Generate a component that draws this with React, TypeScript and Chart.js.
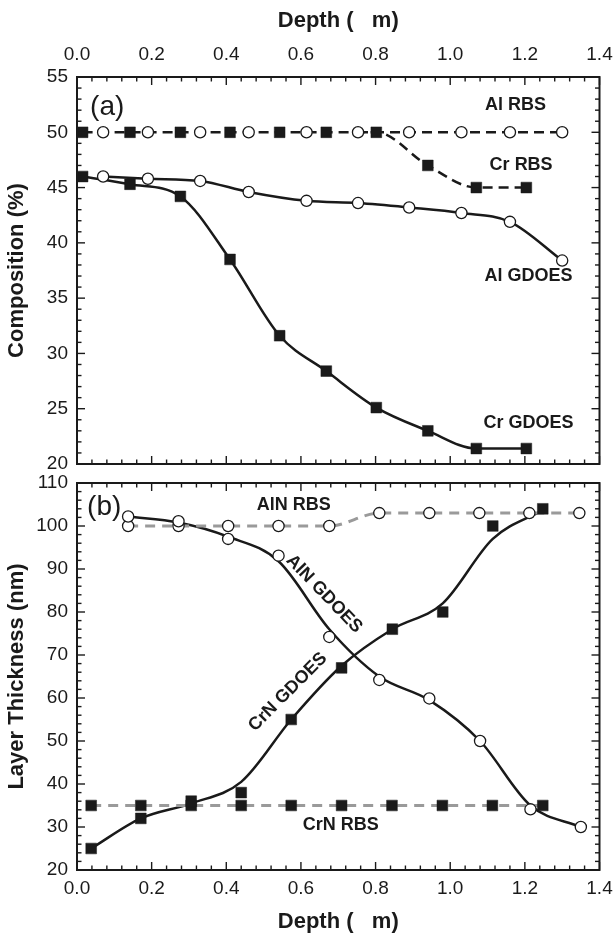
import React, { useEffect, useRef } from 'react';
import { Chart, registerables } from 'chart.js';

Chart.register(...registerables);

// ---------- Panel (a): composition ----------
const alRbsDepth = [0.07, 0.19, 0.33, 0.46, 0.615, 0.753, 0.89, 1.03, 1.16, 1.3];
const alRbs = [50, 50, 50, 50, 50, 50, 50, 50, 50, 50];
const crRbsDepth = [0.015, 0.142, 0.277, 0.41, 0.543, 0.668, 0.802, 0.94, 1.07, 1.204];
const crRbs = [50, 50, 50, 50, 50, 50, 50, 47, 45, 45];
const alGdoesDepth = [0.07, 0.19, 0.33, 0.46, 0.615, 0.753, 0.89, 1.03, 1.16, 1.3];
const alGdoes = [46.0, 45.8, 45.6, 44.6, 43.8, 43.6, 43.2, 42.7, 41.9, 38.4];
const crGdoesDepth = [0.015, 0.142, 0.277, 0.41, 0.543, 0.668, 0.802, 0.94, 1.07, 1.204];
const crGdoes = [46.0, 45.3, 44.2, 38.5, 31.6, 28.4, 25.1, 23.0, 21.4, 21.4];

// ---------- Panel (b): layer thickness ----------
const alnRbsDepth = [0.137, 0.272, 0.405, 0.54, 0.676, 0.81, 0.944, 1.078, 1.212, 1.346];
const alnRbs = [100, 100, 100, 100, 100, 103, 103, 103, 103, 103];
const alnGdoesDepth = [0.137, 0.272, 0.405, 0.54, 0.676, 0.81, 0.944, 1.08, 1.215, 1.35];
const alnGdoes = [102.2, 101.1, 97.0, 93.1, 74.2, 64.2, 59.9, 50.0, 34.1, 30.0];
const alnGdoesFit = [102.2, 100.8, 97.5, 91.8, 76.0, 65.0, 59.5, 50.0, 35.0, 30.0];
const crnRbsDepth = [0.038, 0.171, 0.306, 0.44, 0.574, 0.709, 0.844, 0.979, 1.113, 1.248];
const crnRbs = [35, 35, 35, 35, 35, 35, 35, 35, 35, 35];
const crnGdoesDepth = [0.038, 0.171, 0.306, 0.44, 0.574, 0.709, 0.845, 0.98, 1.114, 1.248];
const crnGdoes = [25, 32, 36, 38, 55, 67, 76, 80, 100, 104];
const crnGdoesFit = [25, 32, 35.5, 40.5, 55, 67.5, 76, 82, 97, 103.7];

// ---------- Axis ticks ----------
const depthMin = 0;
const depthMax = 1.4;
const depthMajor = 0.2;
const depthMinor = 0.04;
const compMin = 20;
const compMax = 55;
const compMajor = 5;
const compMinor = 1;
const thickMin = 20;
const thickMax = 110;
const thickMajor = 10;
const thickMinor = 2;

const xTitle = 'Depth (   m)';
const FONT = '"Liberation Sans", Arial, Helvetica, sans-serif';
const INK = '#1a1a1a';
const GREY = '#9a9a9a';

const zip = (xs: number[], ys: number[]) => xs.map((x, i) => ({ x, y: ys[i] }));

const frameTicks = {
  id: 'frameTicks',
  afterDraw(chart: any, _args: any, opts: any) {
    const { ctx, chartArea: ca, scales } = chart;
    const xs = scales.x;
    const ys = scales.y;
    ctx.save();
    ctx.strokeStyle = INK;
    ctx.lineWidth = 1.4;
    const seg = (x1: number, y1: number, x2: number, y2: number) => {
      ctx.beginPath();
      ctx.moveTo(x1, y1);
      ctx.lineTo(x2, y2);
      ctx.stroke();
    };
    const nx = Math.round((depthMax - depthMin) / depthMinor);
    const perMajorX = Math.round(depthMajor / depthMinor);
    for (let i = 0; i <= nx; i++) {
      const v = depthMin + i * depthMinor;
      const px = xs.getPixelForValue(v);
      const len = i % perMajorX === 0 ? 8 : 4.5;
      seg(px, ca.top, px, ca.top + len);
      seg(px, ca.bottom, px, ca.bottom - len);
    }
    const ny = Math.round((opts.max - opts.min) / opts.minor);
    const perMajorY = Math.round(opts.major / opts.minor);
    for (let i = 0; i <= ny; i++) {
      const v = opts.min + i * opts.minor;
      const py = ys.getPixelForValue(v);
      const len = i % perMajorY === 0 ? 8 : 4.5;
      seg(ca.left, py, ca.left + len, py);
      seg(ca.right, py, ca.right - len, py);
    }
    ctx.lineWidth = 2;
    ctx.strokeRect(ca.left, ca.top, ca.right - ca.left, ca.bottom - ca.top);
    for (const l of opts.labels) {
      ctx.save();
      ctx.translate(xs.getPixelForValue(l.x), ys.getPixelForValue(l.y));
      ctx.rotate(((l.rot || 0) * Math.PI) / 180);
      ctx.font = l.font;
      ctx.fillStyle = INK;
      ctx.textAlign = l.align || 'center';
      ctx.textBaseline = 'middle';
      ctx.fillText(l.text, 0, 0);
      ctx.restore();
    }
    ctx.restore();
  },
};

const bold = `bold 18px ${FONT}`;
const panelFont = `28px ${FONT}`;

const squareStyle = {
  pointStyle: 'rect',
  pointRadius: 7.6,
  pointBackgroundColor: INK,
  pointBorderColor: INK,
  pointBorderWidth: 0.5,
};
const circleStyle = {
  pointStyle: 'circle',
  pointRadius: 5.6,
  pointBackgroundColor: '#ffffff',
  pointBorderColor: INK,
  pointBorderWidth: 1.3,
};

function makeOptions(cfg: any) {
  return {
    responsive: false,
    animation: false,
    events: [],
    layout: { padding: cfg.padding },
    plugins: {
      legend: { display: false },
      tooltip: { enabled: false },
      frameTicks: cfg.frame,
    },
    scales: {
      x: {
        type: 'linear',
        position: cfg.xPos,
        min: depthMin,
        max: depthMax,
        afterFit: (s: any) => {
          s.height = cfg.xHeight;
          s.paddingLeft = 0;
          s.paddingRight = 0;
        },
        grid: { display: false, drawTicks: false },
        border: { display: false },
        ticks: {
          stepSize: depthMajor,
          padding: cfg.xTickPad,
          color: INK,
          font: { family: FONT, size: 19 },
          callback: (v: any) => Number(v).toFixed(1),
          maxRotation: 0,
          autoSkip: false,
        },
        title: {
          display: true,
          text: xTitle,
          color: INK,
          font: { family: FONT, size: 22, weight: 'bold' },
          padding: cfg.xTitlePad,
        },
      },
      y: {
        type: 'linear',
        position: 'left',
        min: cfg.frame.min,
        max: cfg.frame.max,
        afterFit: (s: any) => {
          s.width = 77;
          s.paddingTop = 0;
          s.paddingBottom = 0;
        },
        grid: { display: false, drawTicks: false },
        border: { display: false },
        ticks: {
          stepSize: cfg.frame.major,
          padding: 9,
          color: INK,
          font: { family: FONT, size: 19 },
          autoSkip: false,
        },
        title: {
          display: true,
          text: cfg.yTitle,
          color: INK,
          font: { family: FONT, size: 22, weight: 'bold' },
          padding: { top: 4, bottom: 0 },
        },
      },
    },
  };
}

function TopPanel() {
  const ref = useRef<HTMLCanvasElement>(null);
  useEffect(() => {
    if (!ref.current) return;
    const chart = new Chart(ref.current, {
      type: 'line',
      data: {
        datasets: [
          {
            label: 'Al RBS',
            data: zip(alRbsDepth, alRbs),
            ...circleStyle,
            borderColor: INK,
            borderWidth: 2.5,
            borderDash: [10, 6],
            cubicInterpolationMode: 'monotone',
            segment: {
              borderColor: (c: any) => (c.p0.parsed.x < 0.74 ? 'rgba(0,0,0,0)' : INK),
            },
          },
          {
            label: 'Cr RBS',
            data: zip(crRbsDepth, crRbs),
            ...squareStyle,
            borderColor: INK,
            borderWidth: 2.5,
            borderDash: [10, 6],
            cubicInterpolationMode: 'monotone',
          },
          {
            label: 'Al GDOES',
            data: zip(alGdoesDepth, alGdoes),
            ...circleStyle,
            borderColor: INK,
            borderWidth: 2.5,
            cubicInterpolationMode: 'monotone',
          },
          {
            label: 'Cr GDOES',
            data: zip(crGdoesDepth, crGdoes),
            ...squareStyle,
            borderColor: INK,
            borderWidth: 2.5,
            cubicInterpolationMode: 'monotone',
          },
        ],
      },
      options: makeOptions({
        padding: { left: 0, right: 16.5, top: 0, bottom: 10 },
        xPos: 'top',
        xHeight: 77,
        xTickPad: 11,
        xTitlePad: { top: 8, bottom: 0 },
        yTitle: 'Composition (%)',
        frame: {
          min: compMin,
          max: compMax,
          major: compMajor,
          minor: compMinor,
          labels: [
            { text: '(a)', x: 0.035, y: 52.3, font: panelFont, align: 'left' },
            { text: 'Al RBS', x: 1.175, y: 52.45, font: bold },
            { text: 'Cr RBS', x: 1.19, y: 47.0, font: bold },
            { text: 'Al GDOES', x: 1.21, y: 37.0, font: bold },
            { text: 'Cr GDOES', x: 1.21, y: 23.7, font: bold },
          ],
        },
      }) as any,
      plugins: [frameTicks as any],
    });
    return () => chart.destroy();
  }, []);
  return <canvas ref={ref} width={616} height={474} style={{ display: 'block' }} />;
}

function BottomPanel() {
  const ref = useRef<HTMLCanvasElement>(null);
  useEffect(() => {
    if (!ref.current) return;
    const chart = new Chart(ref.current, {
      type: 'line',
      data: {
        datasets: [
          {
            label: 'AlN GDOES points',
            data: zip(alnGdoesDepth, alnGdoes),
            ...circleStyle,
            showLine: false,
          },
          {
            label: 'CrN GDOES points',
            data: zip(crnGdoesDepth, crnGdoes),
            ...squareStyle,
            showLine: false,
          },
          {
            label: 'AlN RBS',
            data: zip(alnRbsDepth, alnRbs),
            ...circleStyle,
            borderColor: GREY,
            pointBorderColor: INK,
            borderWidth: 3,
            borderDash: [10, 7],
            cubicInterpolationMode: 'monotone',
          },
          {
            label: 'CrN RBS',
            data: zip(crnRbsDepth, crnRbs),
            ...squareStyle,
            borderColor: GREY,
            borderWidth: 3,
            borderDash: [10, 7],
          },
          {
            label: 'AlN GDOES fit',
            data: zip(alnGdoesDepth, alnGdoesFit),
            pointRadius: 0,
            borderColor: INK,
            borderWidth: 2.5,
            cubicInterpolationMode: 'monotone',
          },
          {
            label: 'CrN GDOES fit',
            data: zip(crnGdoesDepth, crnGdoesFit),
            pointRadius: 0,
            borderColor: INK,
            borderWidth: 2.5,
            cubicInterpolationMode: 'monotone',
          },
        ],
      },
      options: makeOptions({
        padding: { left: 0, right: 16.5, top: 9, bottom: 0 },
        xPos: 'bottom',
        xHeight: 66,
        xTickPad: 7,
        xTitlePad: { top: 0, bottom: 1 },
        yTitle: 'Layer Thickness (nm)',
        frame: {
          min: thickMin,
          max: thickMax,
          major: thickMajor,
          minor: thickMinor,
          labels: [
            { text: '(b)', x: 0.027, y: 104.4, font: panelFont, align: 'left' },
            { text: 'AlN RBS', x: 0.581, y: 104.9, font: bold },
            { text: 'AlN GDOES', x: 0.662, y: 84.2, font: bold, rot: 46 },
            { text: 'CrN GDOES', x: 0.565, y: 61.4, font: bold, rot: -45 },
            { text: 'CrN RBS', x: 0.707, y: 30.5, font: bold },
          ],
        },
      }) as any,
      plugins: [frameTicks as any],
    });
    return () => chart.destroy();
  }, []);
  return <canvas ref={ref} width={616} height={462} style={{ display: 'block' }} />;
}

export default function App() {
  return (
    <div
      style={{
        position: 'absolute',
        left: 0,
        top: 0,
        width: 616,
        height: 936,
        background: '#ffffff',
      }}
    >
      <TopPanel />
      <BottomPanel />
    </div>
  );
}
